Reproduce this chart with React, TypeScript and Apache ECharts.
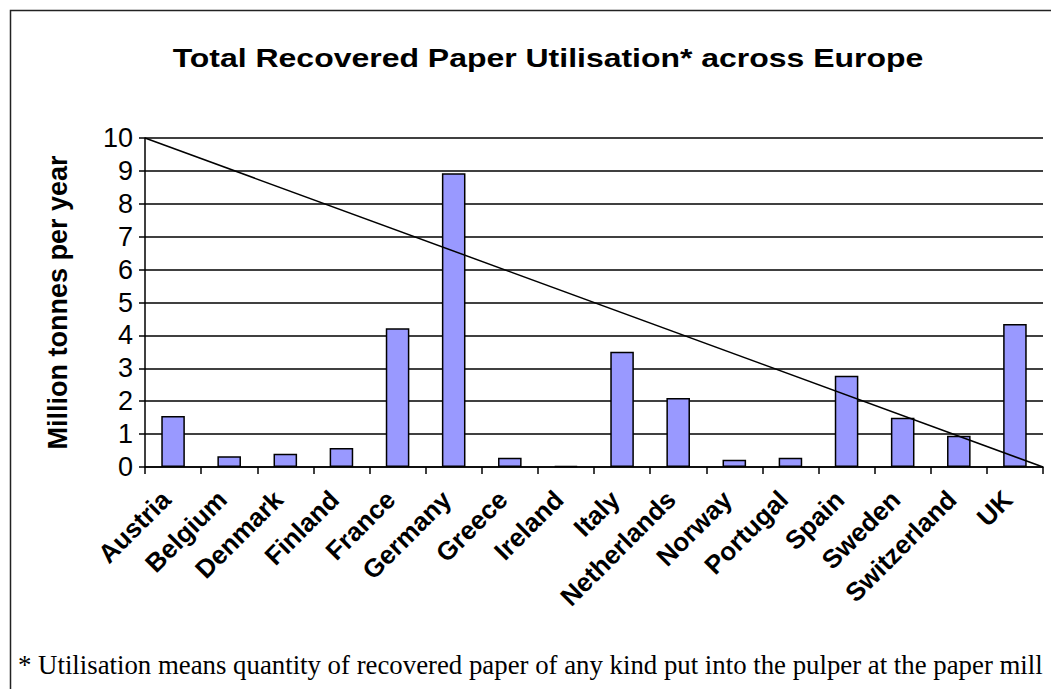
import React, { useEffect, useRef } from "react";
import * as echarts from "echarts";

const countries = [
  "Austria", "Belgium", "Denmark", "Finland", "France", "Germany", "Greece", "Ireland",
  "Italy", "Netherlands", "Norway", "Portugal", "Spain", "Sweden", "Switzerland", "UK",
];
const utilisation = [1.55, 0.33, 0.4, 0.58, 4.22, 8.93, 0.28, 0.03, 3.5, 2.1, 0.22, 0.28, 2.77, 1.5, 0.95, 4.35];
const diagonal = [[0, 10], [1, 0]];
const yTicks = { min: 0, max: 10, interval: 1 };
const titleText = "Total Recovered Paper Utilisation* across Europe";
const yAxisTitle = "Million tonnes per year";
const footnote = "* Utilisation means quantity of recovered paper of any kind put into the pulper at the paper mill";

export default function App() {
  const ref = useRef<HTMLDivElement>(null);
  useEffect(() => {
    if (!ref.current) return;
    const chart = echarts.init(ref.current, null, { renderer: "svg" });
    chart.setOption({
      animation: false,
      backgroundColor: "#ffffff",
      grid: { left: 145, right: 8, top: 138, bottom: 222 },
      xAxis: [
        {
          type: "category",
          data: countries,
          axisLine: { lineStyle: { color: "#000", width: 1.5 } },
          axisTick: { show: true, length: 7, lineStyle: { color: "#000", width: 1.5 } },
          axisLabel: {
            rotate: 45,
            interval: 0,
            margin: 21,
            padding: [0, 10, 0, 0],
            fontFamily: "Arial, Liberation Sans",
            fontWeight: "bold",
            fontSize: 26,
            color: "#000",
          },
        },
        { type: "value", min: 0, max: 1, show: false },
      ],
      yAxis: {
        type: "value",
        min: yTicks.min,
        max: yTicks.max,
        interval: yTicks.interval,
        name: yAxisTitle,
        nameLocation: "middle",
        nameGap: 74,
        nameTextStyle: { fontFamily: "Arial, Liberation Sans", fontWeight: "bold", fontSize: 27, color: "#000" },
        axisLine: { show: true, lineStyle: { color: "#000", width: 1.5 } },
        axisTick: { show: true, length: 6, lineStyle: { color: "#000", width: 1.5 } },
        axisLabel: { margin: 12, fontFamily: "Arial, Liberation Sans", fontSize: 27, color: "#000" },
        splitLine: { show: true, lineStyle: { color: "#000", width: 1.5 } },
      },
      series: [
        {
          type: "bar",
          data: utilisation,
          barCategoryGap: "58%",
          itemStyle: { color: "#9999ff", borderColor: "#000", borderWidth: 1.5 },
        },
        {
          type: "line",
          xAxisIndex: 1,
          data: diagonal,
          symbol: "none",
          lineStyle: { color: "#000", width: 1.5 },
          silent: true,
        },
      ],
      graphic: [
        {
          type: "rect",
          shape: { x: 10.5, y: 10.5, width: 1100, height: 720 },
          style: { fill: "none", stroke: "#222", lineWidth: 1.5 },
          silent: true,
        },
        {
          type: "text",
          x: 548,
          y: 58,
          scaleX: 1.23,
          style: {
            text: titleText,
            fontFamily: "Arial, Liberation Sans",
            fontWeight: "bold",
            fontSize: 26,
            fill: "#000",
            align: "center",
            verticalAlign: "middle",
          },
        },
        {
          type: "text",
          x: 18,
          y: 665,
          style: {
            text: footnote,
            fontFamily: "Times New Roman, Liberation Serif",
            fontSize: 26.8,
            fill: "#000",
            verticalAlign: "middle",
          },
        },
      ],
    });
    return () => chart.dispose();
  }, []);
  return <div ref={ref} style={{ position: "fixed", left: 0, top: 0, width: 1051, height: 689 }} />;
}
